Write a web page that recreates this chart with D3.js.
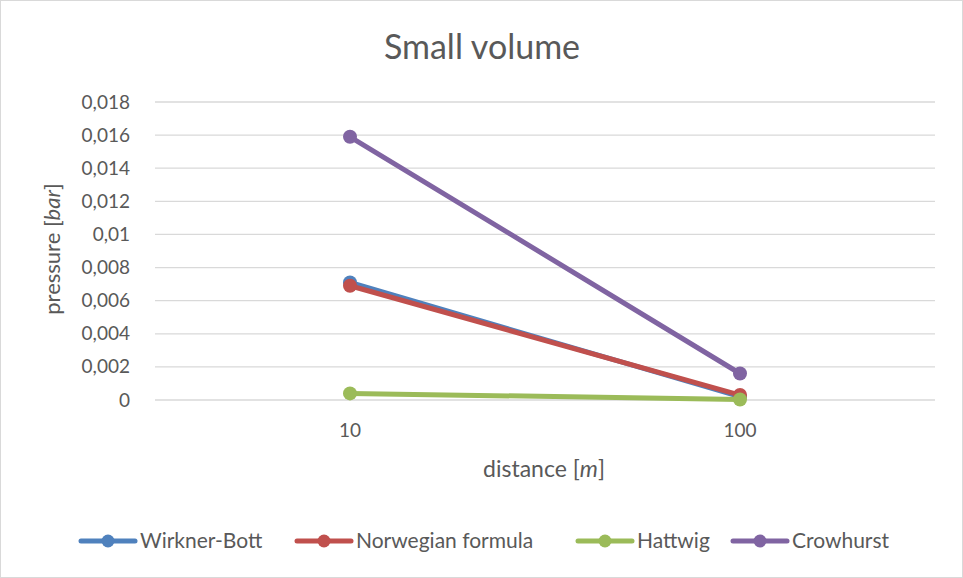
<!DOCTYPE html>
<html>
<head>
<meta charset="utf-8">
<script src="https://cdn.jsdelivr.net/npm/d3@7"></script>
<style>
  html, body { margin: 0; padding: 0; background: #fff; }
  svg { display: block; font-family: Lato, "Open Sans", sans-serif; }
</style>
</head>
<body>
<svg id="chart" width="963" height="578"></svg>
<script>
// Peak pressure against distance, small charge volume
const distances = ["10", "100"];
const seriesNames = ["Wirkner-Bott", "Norwegian formula", "Hattwig", "Crowhurst"];
const seriesColors = ["#4f81bd", "#c0504d", "#9bbb59", "#8064a2"];
const wirknerBott = [0.0071, 0.0002];
const norwegianFormula = [0.0069, 0.0003];
const hattwig = [0.0004, 0.00003];
const crowhurst = [0.0159, 0.0016];
const yTicks = [0, 0.002, 0.004, 0.006, 0.008, 0.010, 0.012, 0.014, 0.016, 0.018];

const seriesValues = [wirknerBott, norwegianFormula, hattwig, crowhurst];

const svg = d3.select("#chart");
const W = 963, H = 578;
const textColor = "#595959";

// Chart frame
svg.append("rect")
  .attr("x", 0.5).attr("y", 0.5)
  .attr("width", W - 1).attr("height", H - 1)
  .attr("fill", "#fff").attr("stroke", "#d9d9d9");

const plot = { left: 155, right: 935, top: 102, bottom: 400 };

const x = d3.scaleBand().domain(distances).range([plot.left, plot.right]);
const y = d3.scaleLinear().domain([0, 0.018]).range([plot.bottom, plot.top]);
const cx = d => x(d) + x.bandwidth() / 2;

// Horizontal gridlines
svg.append("g").selectAll("line").data(yTicks).join("line")
  .attr("x1", plot.left).attr("x2", plot.right)
  .attr("y1", d => y(d)).attr("y2", d => y(d))
  .attr("stroke", "#d9d9d9").attr("stroke-width", 1.3);

const fmt = d => d === 0 ? "0" : String(+d.toFixed(3)).replace(".", ",");

// Y axis labels
const yAxis = d3.axisLeft(y).tickValues(yTicks).tickFormat(fmt).tickSize(0).tickPadding(0);
const gy = svg.append("g").attr("transform", `translate(130,0)`).call(yAxis);
gy.select(".domain").remove();
gy.selectAll("text").attr("fill", textColor).style("font-size", "19px")
  .style("font-family", "Lato, 'Open Sans', sans-serif");

// X axis labels
const xAxis = d3.axisBottom(x).tickSize(0).tickPadding(0);
const gx = svg.append("g").attr("transform", `translate(0,423.5)`).call(xAxis);
gx.select(".domain").remove();
gx.selectAll("text").attr("fill", textColor).style("font-size", "19px")
  .style("font-family", "Lato, 'Open Sans', sans-serif");

// Title
svg.append("text")
  .attr("x", 482).attr("y", 59)
  .attr("text-anchor", "middle")
  .attr("fill", textColor).style("font-size", "34px")
  .text("Small volume");

// Axis titles
const yTitle = svg.append("text")
  .attr("transform", "translate(60,249) rotate(-90)")
  .attr("text-anchor", "middle")
  .attr("fill", textColor).style("font-size", "22px");
yTitle.append("tspan").text("pressure [");
yTitle.append("tspan").attr("font-style", "italic").text("bar");
yTitle.append("tspan").text("]");

const xTitle = svg.append("text")
  .attr("x", 544).attr("y", 477)
  .attr("text-anchor", "middle")
  .attr("fill", textColor).style("font-size", "23px");
xTitle.append("tspan").text("distance [");
xTitle.append("tspan").attr("font-style", "italic").text("m");
xTitle.append("tspan").text("]");

// Series lines and markers
const line = d3.line().x((d, i) => cx(distances[i])).y(d => y(d));
seriesValues.forEach((vals, s) => {
  const g = svg.append("g");
  g.append("path")
    .attr("d", line(vals))
    .attr("fill", "none")
    .attr("stroke", seriesColors[s])
    .attr("stroke-width", 5)
    .attr("stroke-linecap", "round");
  g.selectAll("circle").data(vals).join("circle")
    .attr("cx", (d, i) => cx(distances[i]))
    .attr("cy", d => y(d))
    .attr("r", 7)
    .attr("fill", seriesColors[s]);
});

// Legend
const legendX = [81, 297, 578, 733];
const legendY = 541;
const lg = svg.append("g");
seriesNames.forEach((name, s) => {
  const g = lg.append("g").attr("transform", `translate(${legendX[s]},${legendY})`);
  g.append("line").attr("x1", 0).attr("x2", 54).attr("y1", 0).attr("y2", 0)
    .attr("stroke", seriesColors[s]).attr("stroke-width", 5).attr("stroke-linecap", "round");
  g.append("circle").attr("cx", 27).attr("cy", 0).attr("r", 6.5).attr("fill", seriesColors[s]);
  g.append("text").attr("x", 59).attr("y", 0).attr("dy", "0.35em")
    .attr("fill", textColor).style("font-size", "21px").text(name);
});
</script>
</body>
</html>
